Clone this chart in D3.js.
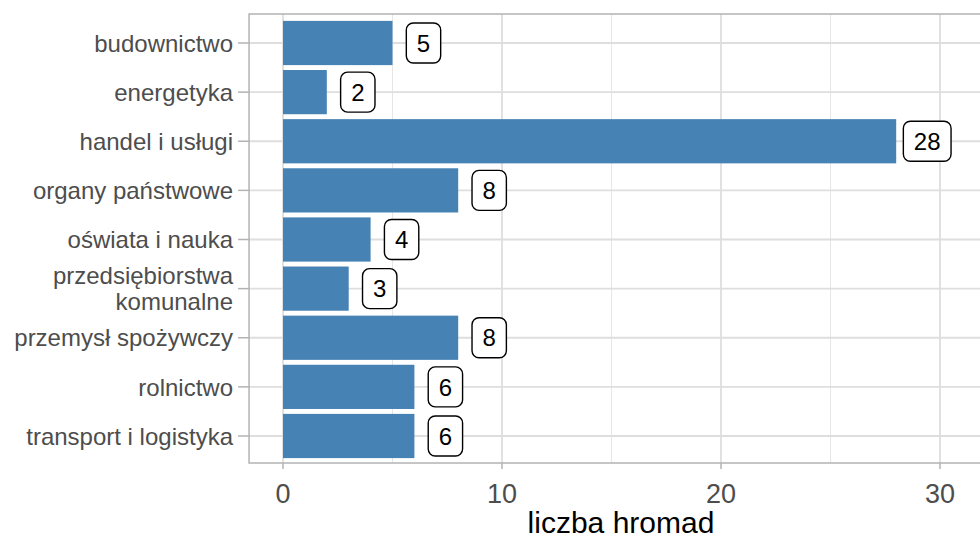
<!DOCTYPE html>
<html><head><meta charset="utf-8">
<script src="https://cdn.jsdelivr.net/npm/d3@7"></script>
<style>body{margin:0;background:#fff}svg{display:block;font-family:"Liberation Sans",Arial,sans-serif}</style>
</head><body><svg id="c" width="980" height="538"></svg>
<script>
const categories = ["budownictwo","energetyka","handel i usługi","organy państwowe","oświata i nauka","przedsiębiorstwa\nkomunalne","przemysł spożywczy","rolnictwo","transport i logistyka"];
const values = [5,2,28,8,4,3,8,6,6];
const xTicks = [0,10,20,30];
const xMinor = [5,15,25,35];
const xTitle = "liczba hromad";

const svg = d3.select("#c");
const x = d3.scaleLinear().domain([0,30]).range([283,940]);
const y = d3.scalePoint().domain(categories).range([43,436]);
const step = y.step();
const panel = {left: x(-1.55), right: 1000, top: 14, bottom: 463};

const g = svg.append("g");
// grid
g.selectAll(".minor").data(xMinor).join("line")
  .attr("x1",d=>x(d)).attr("x2",d=>x(d)).attr("y1",panel.top).attr("y2",panel.bottom)
  .attr("stroke","#e6e6e6").attr("stroke-width",1);
g.selectAll(".major").data(xTicks).join("line")
  .attr("x1",d=>x(d)).attr("x2",d=>x(d)).attr("y1",panel.top).attr("y2",panel.bottom)
  .attr("stroke","#dedede").attr("stroke-width",1.8);
g.selectAll(".hmajor").data(categories).join("line")
  .attr("x1",panel.left).attr("x2",panel.right).attr("y1",d=>y(d)).attr("y2",d=>y(d))
  .attr("stroke","#dedede").attr("stroke-width",1.8);

// bars
const bh = step*0.9;
g.selectAll(".bar").data(categories).join("rect")
  .attr("x",x(0)).attr("y",d=>y(d)-bh/2)
  .attr("width",(d,i)=>x(values[i])-x(0)).attr("height",bh)
  .attr("fill","#4682B4");

// panel border
g.append("rect").attr("x",panel.left).attr("y",panel.top)
  .attr("width",panel.right-panel.left).attr("height",panel.bottom-panel.top)
  .attr("fill","none").attr("stroke","#b3b3b3").attr("stroke-width",1.5);

// labels
const lab = g.selectAll(".lab").data(categories).join("g")
  .attr("transform",(d,i)=>`translate(${x(values[i])+31},${y(d)})`);
lab.each(function(d,i){
  const s = d3.select(this);
  const t = s.append("text").text(values[i]).attr("text-anchor","middle")
    .attr("dy","0.36em").attr("font-size",24).attr("fill","#000");
  const w = t.node().getComputedTextLength();
  s.insert("rect","text").attr("x",-w/2-10.5).attr("y",-20).attr("width",w+21).attr("height",40)
    .attr("rx",7).attr("fill","#fff").attr("stroke","#000").attr("stroke-width",1.4);
});

// x axis
const xa = svg.append("g");
xa.selectAll("line").data(xTicks).join("line")
  .attr("x1",d=>x(d)).attr("x2",d=>x(d)).attr("y1",panel.bottom).attr("y2",panel.bottom+6)
  .attr("stroke","#b3b3b3").attr("stroke-width",1.5);
xa.selectAll("text").data(xTicks).join("text")
  .attr("x",d=>x(d)).attr("y",503).attr("text-anchor","middle")
  .attr("font-size",27).attr("fill","#4d4d4d").text(d=>d);
svg.append("text").attr("x",621).attr("y",533).attr("text-anchor","middle")
  .attr("font-size",30).attr("fill","#000").text(xTitle);

// y axis
const ya = svg.append("g");
const lx = 233;
ya.selectAll("line").data(categories).join("line")
  .attr("x1",panel.left-11).attr("x2",panel.left).attr("y1",d=>y(d)).attr("y2",d=>y(d))
  .attr("stroke","#b3b3b3").attr("stroke-width",1.5);
ya.selectAll("text").data(categories).join("text")
  .attr("x",lx).attr("text-anchor","end").attr("font-size",24).attr("fill","#4d4d4d")
  .each(function(d){
    const lines = d.split("\n");
    const t = d3.select(this);
    const lh = 26;
    const y0 = y(d) - (lines.length-1)*lh/2;
    lines.forEach((l,k)=>t.append("tspan").attr("x",lx).attr("y",y0+k*lh).attr("dy","0.36em").text(l));
  });
</script></body></html>
